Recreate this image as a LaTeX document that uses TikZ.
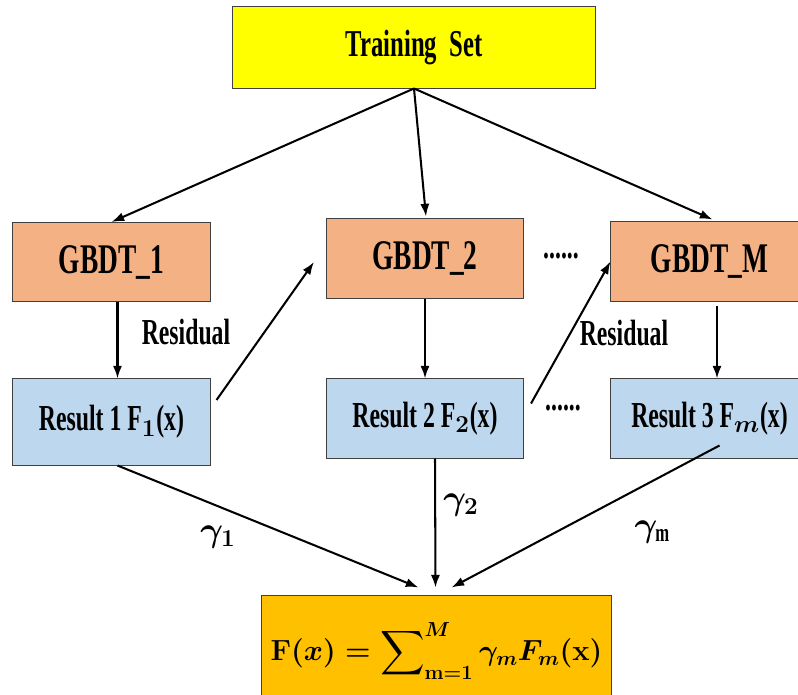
\documentclass[tikz,border=0pt]{standalone}
\usepackage{amsmath}
\usepackage{amssymb}
\usepackage{bm}
\usepackage{fontspec}
\setmainfont{Liberation Serif}[FakeStretch=0.65]
\usepackage{xcolor}
\usepackage{tikz}
\usetikzlibrary{positioning}
\usetikzlibrary{calc}
\usetikzlibrary{arrows.meta}

\definecolor{setyellow}{HTML}{FFFF00}
\definecolor{treeorange}{HTML}{F4B183}
\definecolor{resblue}{HTML}{BDD7EE}
\definecolor{sumgold}{HTML}{FFC000}
\definecolor{edgegray}{HTML}{404040}

\begin{document}
\begin{tikzpicture}[x=0.025cm,y=-0.025cm,
  box/.style={draw=edgegray,line width=0.7pt,inner sep=0pt,
    minimum width=4.925cm,minimum height=1.975cm},
  treebox/.style={box,fill=treeorange,font=\bfseries\fontsize{30}{33}\selectfont},
  resbox/.style={box,fill=resblue,font=\bfseries\boldmath\fontsize{26}{29}\selectfont},
  lbl/.style={font=\bfseries\boldmath\fontsize{26}{29}\selectfont},
  arr/.style={line width=1.45pt,-{Latex[length=9pt,width=6.5pt]}}]
\useasboundingbox (0,0) rectangle (798,695);

% input
\node [box,fill=setyellow,minimum width=9.05cm,minimum height=2.025cm,
  font=\bfseries\fontsize{27}{30}\selectfont] (train) at (414,47.5) {Training\ \ Set};

% the trees
\node [treebox] (g1) at (111.5,262) {GBDT\_1};
\node [treebox] (g2) at (425,258.5) {GBDT\_2};
\node [treebox] (gm) at (709.5,261.5) {GBDT\_M};

% their results
\node [resbox,minimum height=2.15cm] (r1) at (111.5,422) {Result 1 F$_1$(x)};
\node [resbox] (r2) at (425,418.5) {Result 2 F$_2$(x)};
\node [resbox] (r3) at (709.5,418.5) {Result 3 F$_m$(x)};

% sum
\node [box,fill=sumgold,minimum width=8.725cm,minimum height=2.75cm,
  font=\boldmath\fontsize{22}{26}\selectfont] (fin) at (436.5,651)
  {$\displaystyle\mathbf{F}(x) = \sum\nolimits_{\mathbf{m=1}}^{M}\gamma_m F_m(\mathbf{x})$};

\draw [arr] (train.south) -- (g1.north);
\draw [arr] (train.south) -- ($(g2.north)+(1,-2)$);
\draw [arr] (train.south) -- ($(gm.north)+(3,-2)$);

\draw [arr] ($(g1.south)+(6,0)$) -- ($(r1.north)+(6,0)$);
\draw [arr] (g2.south) -- (r2.north);
\draw [arr] ($(gm.south)+(7.5,4)$) -- ($(gm.south)+(7.5,77)$);

\draw [arr] ($(r1.east)+(6,-22)$) -- ($(g2.west)+(-12,3.5)$);
\draw [arr] ($(r2.east)+(7,-15)$) -- (gm.west);

\draw [arr] ($(r1.south)+(6,0)$) -- ($(fin.north)+(-18,-8)$);
\draw [arr] ($(r2.south)+(10,0)$) -- ($(fin.north)+(-1,-8)$);
\draw [arr] ($(r3.south)+(10,-13)$) -- ($(fin.north)+(15,-8)$);

% labels
\node [lbl] (res1) at (186,332) {Residual};
\node [lbl] (res2) at (624,333) {Residual};
\node [lbl] (dots1) at (561,256) {......};
\node [lbl] (dots2) at (563,408) {......};
\node [lbl] (w1) at (218,537) {$\gamma_1$};
\node [lbl] (w2) at (461,505) {$\gamma_2$};
\node [lbl] (wm) at (656,532) {$\gamma_{\mathrm{m}}$};
\end{tikzpicture}
\end{document}
